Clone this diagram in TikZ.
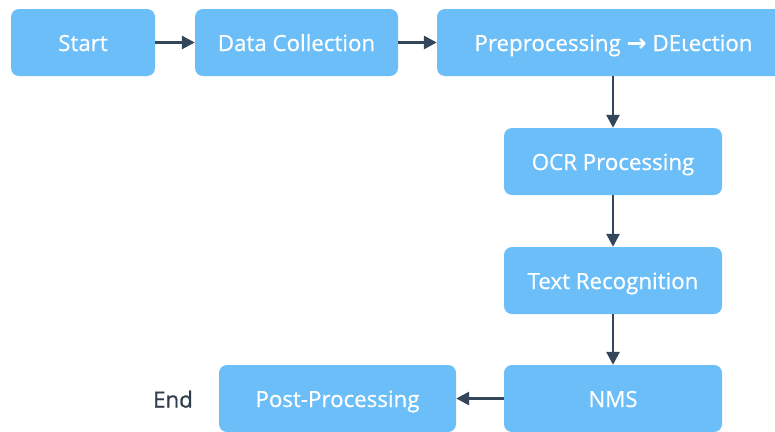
\documentclass[tikz,border=0pt]{standalone}
\usepackage{fontspec}
\setmainfont{Open Sans}[FakeBold=0.7]
\newfontfamily\arrfont{DejaVu Sans}
\usetikzlibrary{arrows.meta}
\definecolor{boxblue}{HTML}{6BBEF7}
\definecolor{arrowdark}{HTML}{34465A}
\definecolor{enddark}{HTML}{2E3B4B}
\begin{document}
\begin{tikzpicture}[x=1pt,y=-1pt,
  stepbox/.style={draw=none, fill=boxblue, rounded corners=8pt, text=white,
    font=\fontsize{22.3}{25}\selectfont, minimum height=67pt, inner sep=0pt,
    text height=19pt, text depth=2pt},
  flow/.style={draw=arrowdark, line width=2.8pt, -{Triangle[length=13pt,width=13pt]}}]
\useasboundingbox (0,0) rectangle (775,431);
\clip (0,0) rectangle (775,431);
\node[stepbox, minimum width=144pt] (start) at (83,42.5) {Start};
\node[stepbox, minimum width=203pt] (data) at (296.5,42.5) {Data Collection};
\node[stepbox, minimum width=353pt] (prep) at (613.5,42.5) {Preprocessing {\arrfont\bfseries\fontsize{24}{25}\selectfont →} DEιection};
\node[stepbox, minimum width=218pt] (ocr) at (613,161.5) {OCR Processing};
\node[stepbox, minimum width=218pt] (text) at (613,280.5) {Text Recognition};
\node[stepbox, minimum width=218pt] (nms) at (613,398.5) {NMS};
\node[stepbox, minimum width=237pt] (post) at (337.5,398.5) {Post-Processing};
\node[text=enddark, font=\fontsize{22.3}{25}\selectfont, inner sep=0pt,
  text height=19pt, text depth=2pt] (end) at (173,399) {End};
\draw[flow] (start.east) -- (data.west);
\draw[flow] (data.east) -- (prep.west);
\draw[flow] (prep.south -| ocr.north) -- (ocr.north);
\draw[flow] (ocr.south) -- (text.north);
\draw[flow] (text.south) -- (nms.north);
\draw[flow] (nms.west) -- (post.east);
\end{tikzpicture}
\end{document}
